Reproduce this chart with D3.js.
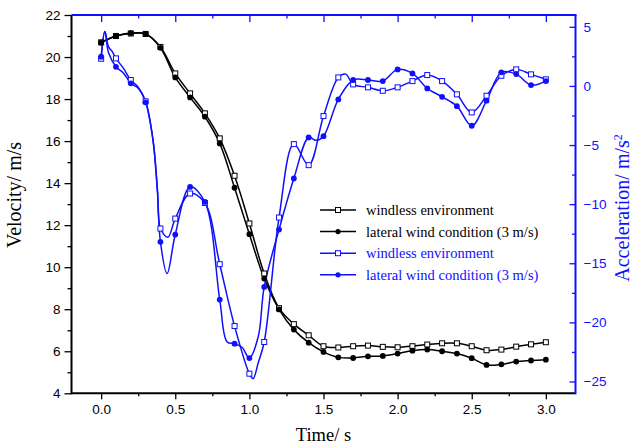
<!DOCTYPE html>
<html>
<head>
<meta charset="utf-8">
<script src="https://cdn.jsdelivr.net/npm/d3@7/dist/d3.min.js"></script>
<style>
  body { margin: 0; background: #fff; }
</style>
</head>
<body>
<svg class="chart"></svg>
<script>
// velocity data (left axis), one point every 0.1 s
const time = [0.0, 0.1, 0.2, 0.3, 0.4, 0.5, 0.6, 0.7, 0.8, 0.9, 1.0, 1.1, 1.2, 1.3, 1.4, 1.5,
              1.6, 1.7, 1.8, 1.9, 2.0, 2.1, 2.2, 2.3, 2.4, 2.5, 2.6, 2.7, 2.8, 2.9, 3.0];
const velWindless = [20.7, 21.0, 21.12, 21.1, 20.48, 19.22, 18.27, 17.32, 16.13, 14.35, 12.08, 9.70, 8.05, 7.29, 6.76, 6.24,
                     6.18, 6.24, 6.27, 6.21, 6.19, 6.24, 6.32, 6.38, 6.38, 6.24, 6.05, 6.08, 6.22, 6.33, 6.43];
const velLateral = [20.68, 21.0, 21.14, 21.1, 20.44, 19.03, 18.08, 17.16, 15.89, 13.78, 11.57, 9.46, 7.99, 7.03, 6.41, 5.97,
                    5.71, 5.68, 5.76, 5.78, 5.89, 6.03, 6.08, 6.0, 5.89, 5.67, 5.35, 5.38, 5.51, 5.56, 5.60];

// acceleration data (right axis), [time, value]; markers only sit on the 0.1 s points
const accWindless = [[0, 2.3], [0.025, 4.6], [0.05, 3.3], [0.075, 2.9], [0.1, 2.33], [0.15, 1.5], [0.2, 0.5], [0.25, -0.1],
                     [0.3, -1.3], [0.35, -4.6], [0.38, -8.8], [0.4, -12.06], [0.45, -12.8], [0.5, -11.22], [0.6, -9.10],
                     [0.7, -9.9], [0.8, -15.08], [0.9, -20.31], [1.0, -24.34], [1.025, -24.76], [1.06, -23.4], [1.1, -21.66],
                     [1.2, -11.13], [1.3, -4.92], [1.4, -6.70], [1.5, -2.55], [1.6, 0.72], [1.65, 1.0], [1.7, 0.13],
                     [1.8, -0.12], [1.9, -0.41], [2.0, -0.12], [2.1, 0.41], [2.2, 0.92], [2.3, 0.41], [2.4, -0.71],
                     [2.5, -2.24], [2.6, -0.83], [2.7, 0.86], [2.8, 1.40], [2.9, 0.98], [3.0, 0.56]];
const accLateral = [[0, 2.47], [0.025, 4.6], [0.05, 2.8], [0.1, 1.62], [0.15, 1.1], [0.2, 0.22], [0.25, -0.2],
                    [0.3, -1.39], [0.35, -4.6], [0.38, -9.0], [0.4, -13.19], [0.445, -15.87], [0.5, -12.57], [0.6, -8.54],
                    [0.7, -9.81], [0.8, -18.07], [0.85, -21.66], [0.9, -21.8], [0.95, -22.1], [1.0, -23.02], [1.06, -21.2],
                    [1.1, -17.0], [1.2, -12.15], [1.3, -7.83], [1.4, -4.36], [1.45, -4.6], [1.5, -4.25], [1.6, -1.14],
                    [1.7, 0.50], [1.8, 0.50], [1.9, 0.41], [2.0, 1.40], [2.1, 1.06], [2.2, -0.21], [2.3, -0.92],
                    [2.4, -1.71], [2.5, -3.37], [2.6, -1.25], [2.7, 1.15], [2.8, 1.0], [2.9, 0.07], [3.0, 0.41]];

const xTicks = [0, 0.5, 1.0, 1.5, 2.0, 2.5, 3.0];
const xMinorTicks = [0.25, 0.75, 1.25, 1.75, 2.25, 2.75];
const leftTicks = [4, 6, 8, 10, 12, 14, 16, 18, 20, 22];
const leftMinorTicks = [5, 7, 9, 11, 13, 15, 17, 19, 21];
const rightTicks = [-25, -20, -15, -10, -5, 0, 5];
const rightMinorTicks = [-22.5, -17.5, -12.5, -7.5, -2.5, 2.5];
const legendLabels = ["windless environment", "lateral wind condition (3 m/s)",
                      "windless environment", "lateral wind condition (3 m/s)"];

const width = 632, height = 446,
      margin = { top: 15, left: 71.5, right: 56.5, bottom: 52.7 };
const blue = "#1010ff";
const serif = "'Liberation Serif', 'Times New Roman', serif";

const svg = d3.select(".chart").attr("width", width).attr("height", height);

const x = d3.scaleLinear().domain([-0.2, 3.2]).range([margin.left, width - margin.right]);
const yL = d3.scaleLinear().domain([4, 22]).range([height - margin.bottom, margin.top]);
const yR = d3.scaleLinear().domain([-26, 6]).range([height - margin.bottom, margin.top]);

const x0 = margin.left, x1 = width - margin.right, y0 = height - margin.bottom, y1 = margin.top;

// axes -----------------------------------------------------------------
function styleAxis(g, color, fontSize) {
    g.select(".domain").remove();
    g.selectAll("line").attr("stroke", color).attr("stroke-width", 1.3);
    g.selectAll("text").attr("fill", color)
        .style("font-family", "'Liberation Sans', Arial, sans-serif")
        .style("font-size", fontSize + "px");
}

svg.append("g").attr("transform", `translate(0,${y0})`)
    .call(d3.axisBottom(x).tickValues(xTicks).tickSize(6).tickPadding(5).tickFormat(d3.format(".1f")))
    .call(g => styleAxis(g, "#000", 13.5));
svg.append("g").attr("transform", `translate(0,${y0})`)
    .call(d3.axisBottom(x).tickValues(xMinorTicks).tickSize(3).tickFormat(""))
    .call(g => styleAxis(g, "#000", 13));

svg.append("g").attr("transform", `translate(0,${y1})`)
    .call(d3.axisTop(x).tickValues(xTicks).tickSize(-7).tickFormat(""))
    .call(g => styleAxis(g, blue, 13));
svg.append("g").attr("transform", `translate(0,${y1})`)
    .call(d3.axisTop(x).tickValues(xMinorTicks).tickSize(-3.5).tickFormat(""))
    .call(g => styleAxis(g, blue, 13));

svg.append("g").attr("transform", `translate(${x0},0)`)
    .call(d3.axisLeft(yL).tickValues(leftTicks).tickSize(7).tickPadding(4).tickFormat(d3.format("d")))
    .call(g => styleAxis(g, "#000", 13.5));
svg.append("g").attr("transform", `translate(${x0},0)`)
    .call(d3.axisLeft(yL).tickValues(leftMinorTicks).tickSize(4).tickFormat(""))
    .call(g => styleAxis(g, "#000", 13));

svg.append("g").attr("transform", `translate(${x1},0)`)
    .call(d3.axisRight(yR).tickValues(rightTicks).tickSize(-6).tickPadding(8).tickFormat(d3.format("d")))
    .call(g => styleAxis(g, blue, 13.5));
svg.append("g").attr("transform", `translate(${x1},0)`)
    .call(d3.axisRight(yR).tickValues(rightMinorTicks).tickSize(-3.5).tickFormat(""))
    .call(g => styleAxis(g, blue, 13));

// frame lines: bottom/left black, top/right blue
svg.append("line").attr("x1", x0).attr("x2", x1).attr("y1", y0).attr("y2", y0).attr("stroke", "#000").attr("stroke-width", 2);
svg.append("line").attr("x1", x0).attr("x2", x0).attr("y1", y0 + 1).attr("y2", y1).attr("stroke", "#000").attr("stroke-width", 2);
svg.append("line").attr("x1", x0).attr("x2", x1 + 1).attr("y1", y1).attr("y2", y1).attr("stroke", blue).attr("stroke-width", 2);
svg.append("line").attr("x1", x1).attr("x2", x1).attr("y1", y1).attr("y2", y0 + 1).attr("stroke", blue).attr("stroke-width", 2);

// axis titles
svg.append("text")
    .attr("x", (x0 + x1) / 2).attr("y", 441)
    .attr("text-anchor", "middle")
    .style("font-family", serif).style("font-size", "18.5px")
    .text("Time/ s");

svg.append("text")
    .attr("transform", "translate(21,195) rotate(-90)")
    .attr("text-anchor", "middle")
    .style("font-family", serif).style("font-size", "20px")
    .text("Velocity/ m/s");

const rt = svg.append("text")
    .attr("transform", "translate(629,208) rotate(-90)")
    .attr("text-anchor", "middle")
    .attr("fill", blue)
    .style("font-family", serif).style("font-size", "20px");
rt.append("tspan").text("Acceleration/ m/s");
rt.append("tspan").attr("dy", -7).style("font-size", "12px").text("2");

// curves -----------------------------------------------------------------
const curve = d3.curveCatmullRom.alpha(0.5);
const lineL = d3.line().x((d, i) => x(time[i])).y(d => yL(d)).curve(curve);
const lineR = d3.line().x(d => x(d[0])).y(d => yR(d[1])).curve(curve);
const onTenth = d => Math.abs(d[0] * 10 - Math.round(d[0] * 10)) < 1e-6;

function squares(data, cx, cy, color) {
    svg.append("g").selectAll("rect")
        .data(data).enter().append("rect")
        .attr("x", cx).attr("y", cy)
        .attr("transform", "translate(-2.5,-2.5)")
        .attr("width", 5).attr("height", 5)
        .attr("fill", "#fff").attr("stroke", color).attr("stroke-width", 1);
}
function dots(data, cx, cy, color) {
    svg.append("g").selectAll("circle")
        .data(data).enter().append("circle")
        .attr("cx", cx).attr("cy", cy).attr("r", 2.9)
        .attr("fill", color);
}

svg.append("path").datum(velWindless).attr("d", lineL)
    .attr("fill", "none").attr("stroke", "#000").attr("stroke-width", 1.5);
svg.append("path").datum(velLateral).attr("d", lineL)
    .attr("fill", "none").attr("stroke", "#000").attr("stroke-width", 1.5);
svg.append("path").datum(accWindless).attr("d", lineR)
    .attr("fill", "none").attr("stroke", blue).attr("stroke-width", 1.5);
svg.append("path").datum(accLateral).attr("d", lineR)
    .attr("fill", "none").attr("stroke", blue).attr("stroke-width", 1.5);

squares(velWindless, (d, i) => x(time[i]), d => yL(d), "#000");
dots(velLateral, (d, i) => x(time[i]), d => yL(d), "#000");
squares(accWindless.filter(onTenth), d => x(d[0]), d => yR(d[1]), blue);
dots(accLateral.filter(onTenth), d => x(d[0]), d => yR(d[1]), blue);

// legend -----------------------------------------------------------------
const legend = svg.append("g").attr("transform", "translate(320,210)");
legendLabels.forEach((label, i) => {
    const color = i < 2 ? "#000" : blue;
    const row = legend.append("g").attr("transform", `translate(0,${i * 21.6})`);
    row.append("line").attr("x1", 0).attr("x2", 36).attr("y1", 0).attr("y2", 0)
        .attr("stroke", color).attr("stroke-width", 1.5);
    if (i % 2 === 0) {
        row.append("rect").attr("x", 15.5).attr("y", -2.5).attr("width", 5).attr("height", 5)
            .attr("fill", "#fff").attr("stroke", color).attr("stroke-width", 1);
    } else {
        row.append("circle").attr("cx", 18).attr("cy", 0).attr("r", 2.6).attr("fill", color);
    }
    row.append("text").attr("x", 46).attr("y", 5)
        .attr("fill", color)
        .style("font-family", serif).style("font-size", "14.5px")
        .text(label);
});
</script>
</body>
</html>
